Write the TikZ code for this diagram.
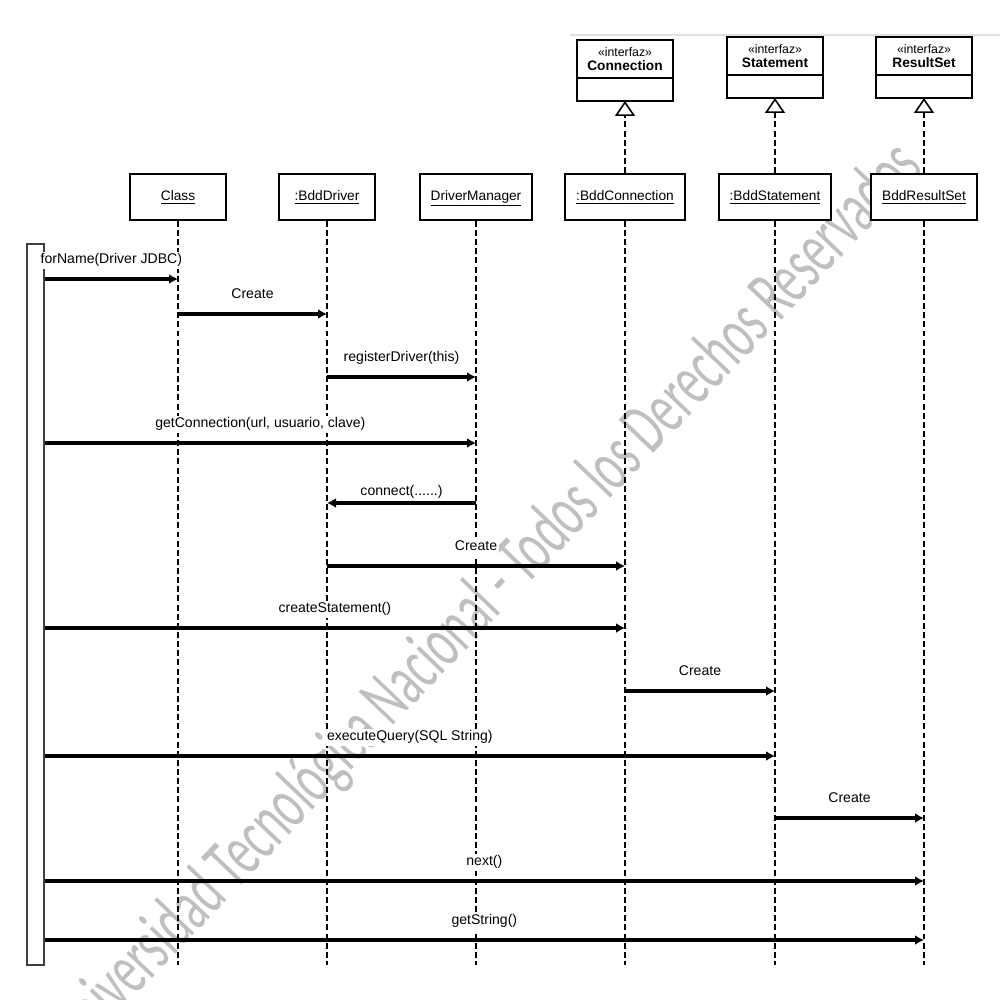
\documentclass[tikz,border=0pt]{standalone}
\usepackage{fontspec}
\setmainfont{Liberation Sans}
\newfontfamily\wmfont{Carlito}
\usetikzlibrary{arrows.meta,positioning}

\tikzset{
  obj/.style={draw, line width=1pt, fill=white, minimum width=1.92cm,
    minimum height=0.92cm, inner xsep=0.22cm, text height=6pt, text depth=2pt,
    font=\fontsize{7.8}{9}\selectfont},
  iface/.style={draw, line width=1pt, fill=white, minimum width=1.92cm,
    minimum height=0.76cm, inner sep=1pt, outer sep=0pt, align=center,
    font=\fontsize{7}{8.2}\selectfont},
  ifacebot/.style={draw, line width=1pt, fill=white, minimum width=1.92cm,
    minimum height=0.46cm, inner sep=0pt, outer sep=0pt},
  life/.style={line width=0.9pt, dash pattern=on 3.4pt off 1.8pt},
  real/.style={life, -{Triangle[open, length=0.3cm, width=0.4cm, line width=0.9pt]}},
  msg/.style={line width=1.8pt, -{Latex[length=0.18cm, width=0.2cm]}},
  lbl/.style={fill=white, inner sep=1pt, text height=6pt, text depth=1.7pt,
    font=\fontsize{8}{9.5}\selectfont},
  actbar/.style={draw=black!75, line width=0.8pt, fill=white, minimum width=0.34cm,
    minimum height=14.42cm, inner sep=0pt},
  wm/.style={text=black!25, rotate=46.3, font=\wmfont\fontsize{25.7}{28}\selectfont}
}

\begin{document}
\begin{tikzpicture}[x=0.02cm, y=-0.02cm]
  \useasboundingbox (0,0) rectangle (1000,1000);
  \clip (0,0) rectangle (1000,1000);

  % watermark behind everything
  \node[wm] (wmark) at (487,600) {\scalebox{1.01}[1.65]{Universidad Tecnológica Nacional - Todos los Derechos Reservados}};
  \draw[black!12, line width=1.2pt] (570,35) -- (1000,35);

  % objects of the sequence
  \node[obj] (cls) at (178,197) {\underline{Class}};
  \node[obj] (drv) at (327,197) {\underline{:BddDriver}};
  \node[obj] (mgr) at (476,197) {\underline{DriverManager}};
  \node[obj] (bconn) at (625,197) {\underline{:BddConnection}};
  \node[obj] (bstmt) at (775,197) {\underline{:BddStatement}};
  \node[obj] (brs) at (924,197) {\underline{BddResultSet}};

  % interfaces
  \node[iface] (iconn) at (625,59) {«interfaz»\\\textbf{\fontsize{7.8}{8.2}\selectfont Connection}};
  \node[ifacebot, below=0pt of iconn] (iconnb) {};
  \node[iface] (istmt) at (775,56) {«interfaz»\\\textbf{\fontsize{7.8}{8.2}\selectfont Statement}};
  \node[ifacebot, below=0pt of istmt] (istmtb) {};
  \node[iface] (irs) at (924,56) {«interfaz»\\\textbf{\fontsize{7.8}{8.2}\selectfont ResultSet}};
  \node[ifacebot, below=0pt of irs] (irsb) {};

  \foreach \n/\i in {bconn/iconnb, bstmt/istmtb, brs/irsb}
    \draw[real] (\n.north) -- (\i.south);

  % lifelines
  \coordinate (bot) at (0,965);
  \foreach \n in {cls,drv,mgr,bconn,bstmt,brs}
    \draw[life] (\n.south) -- (\n.south |- bot);

  % caller activation
  \node[actbar] (act) at (35.5,604.5) {};

  % messages
  \foreach \y/\a/\b/\d/\txt in {
      279/act.east/cls/5pt/forName(Driver JDBC),
      314/cls/drv/5pt/Create,
      377/drv/mgr/5pt/registerDriver(this),
      443/act.east/mgr/5pt/{getConnection(url, usuario, clave)},
      503/mgr/drv/0.5pt/{connect(......)},
      566/drv/bconn/5pt/Create,
      628/act.east/bconn/5pt/createStatement(),
      691/bconn/bstmt/5pt/Create,
      756/act.east/bstmt/5pt/executeQuery(SQL String),
      818/bstmt/brs/5pt/Create,
      881/act.east/brs/5pt/next(),
      940/act.east/brs/5pt/getString()}
    \draw[msg] (\a |- 0,\y) -- node[lbl, above=\d] {\txt} (\b |- 0,\y);
\end{tikzpicture}
\end{document}
